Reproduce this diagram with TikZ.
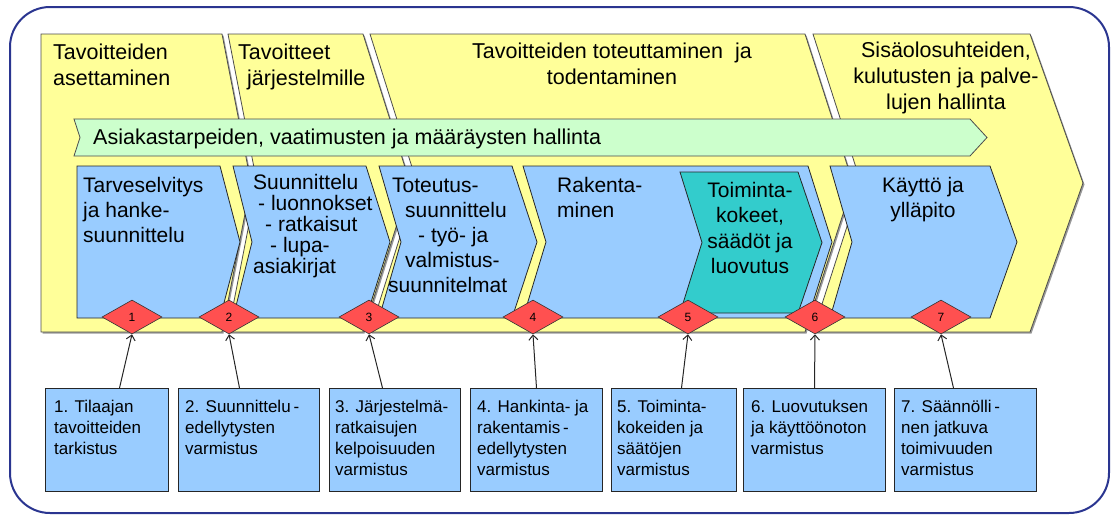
\documentclass[tikz,border=0pt]{standalone}
\usepackage{fontspec}
\setmainfont{Liberation Sans}
\usetikzlibrary{shapes.geometric,arrows.meta}
\definecolor{yel}{HTML}{FFFF99}
\definecolor{blu}{HTML}{99CCFF}
\definecolor{tea}{HTML}{33CCCC}
\definecolor{grn}{HTML}{CCFFCC}
\definecolor{redd}{HTML}{FF5050}
\definecolor{navy}{HTML}{2A3590}
\begin{document}
\begin{tikzpicture}[x=1pt,y=-1pt,
  phase/.style={preaction={fill=black!40,transform canvas={xshift=1.5pt,yshift=-1.5pt}},
                fill=yel,draw=black!70,line width=0.8pt},
  stagebox/.style={fill=blu,draw=black!85,line width=0.8pt},
  tealbox/.style={fill=tea,draw=black!85,line width=0.8pt},
  greenbar/.style={fill=grn,draw=black!70,line width=0.8pt},
  dia/.style={diamond,fill=redd,draw=black!80,line width=0.6pt,minimum width=60pt,
              minimum height=34pt,inner sep=0pt,font=\fontsize{12}{14}\selectfont},
  lbox/.style={rectangle,fill=blu,draw=black!85,line width=1pt,inner sep=0pt,
               anchor=north west,minimum height=103pt},
  arr/.style={-{Straight Barb[length=5pt,width=9pt]},line width=1pt,black!85},
  bigtxt/.style={font=\fontsize{21.5}{26}\selectfont,inner sep=0pt},
  midtxt/.style={font=\fontsize{21}{25}\selectfont,inner sep=0pt},
  smalltxt/.style={font=\fontsize{17}{21}\selectfont,inner sep=0pt,align=left,anchor=base west}
]
\useasboundingbox (0,0) rectangle (1112,515);
% outer frame
\draw[navy,line width=2pt,rounded corners=40pt] (10,7) rectangle (1109,513);

% phases (yellow chevrons)
\draw[phase] (41,34) -- (222,34) -- (251,183) -- (222,332) -- (41,332) -- cycle;
\draw[phase] (228,34) -- (363,34) -- (410,183) -- (363,332) -- (228,332) -- (257,183) -- cycle;
\draw[phase] (370,34) -- (805,34) -- (853,183) -- (805,332) -- (370,332) -- (417,183) -- cycle;
\draw[phase] (813,34) -- (1030,34) -- (1083,183) -- (1030,332) -- (813,332) -- (861,183) -- cycle;

% green bar
\draw[greenbar] (74,119) -- (970,119) -- (987,137.5) -- (970,156) -- (74,156) -- (80,137.5) -- cycle;

% stages
\draw[stagebox] (77,166) -- (220,166) -- (240,242) -- (220,318) -- (77,318) -- cycle;
\draw[stagebox] (233,166) -- (366,166) -- (390,242) -- (366,318) -- (233,318) -- (252,242) -- cycle;
\draw[stagebox] (379,166) -- (512,166) -- (537,242) -- (512,318) -- (379,318) -- (401,242) -- cycle;
\draw[stagebox] (523,166) -- (808,166) -- (832,242) -- (808,318) -- (523,318) -- (546,242) -- cycle;
\draw[tealbox] (680,172) -- (798,172) -- (822,242.5) -- (798,313) -- (680,313) -- (702,242.5) -- cycle;
\draw[stagebox] (830,166) -- (990,166) -- (1017,242) -- (990,318) -- (830,318) -- (852,242) -- cycle;

% phase titles (anchor = baseline of last line)
\node[bigtxt,anchor=base west,align=left] (p1) at (53,85) {Tavoitteiden\\asettaminen};
\node[bigtxt,anchor=base west,align=left] (p2) at (238,85) {Tavoitteet\\\hspace*{9pt}järjestelmille};
\node[bigtxt,anchor=base,align=center] (p3) at (612,84) {Tavoitteiden toteuttaminen\ \ ja\\todentaminen};
\node[bigtxt,anchor=base,align=center] (p4) at (946,109) {Sisäolosuhteiden,\\kulutusten ja palve-\\lujen hallinta};

% green bar text
\node[bigtxt,anchor=base west] (g) at (93,144) {Asiakastarpeiden, vaatimusten ja määräysten hallinta};

% stage texts
\node[midtxt,anchor=base west,align=left] (s1) at (83,242) {Tarveselvitys\\ja hanke-\\suunnittelu};
\node[font=\fontsize{21}{21}\selectfont,inner sep=0pt,anchor=base west,align=left] (s2) at (253,273)
  {Suunnittelu\\\hspace*{5pt}- luonnokset\\\hspace*{12pt}- ratkaisut\\\hspace*{17pt}- lupa-\\asiakirjat};
\node[midtxt,anchor=base west,align=left] (s3) at (388,292)
  {\hspace*{4pt}Toteutus-\\\hspace*{17pt}suunnittelu\\\hspace*{30pt}- työ- ja\\\hspace*{17pt}valmistus-\\suunnitelmat};
\node[midtxt,anchor=base west,align=left] (s4) at (557,217) {Rakenta-\\minen};
\node[font=\fontsize{21}{25.5}\selectfont,inner sep=0pt,anchor=base,align=center] (s5) at (750,273.5)
  {Toiminta-\\kokeet,\\säädöt ja\\luovutus};
\node[midtxt,anchor=base,align=center] (s6) at (923,217) {Käyttö ja\\ylläpito};

% diamonds
\node[dia] (d1) at (132,317) {1};
\node[dia] (d2) at (229,317) {2};
\node[dia] (d3) at (369,317) {3};
\node[dia] (d4) at (533,317) {4};
\node[dia] (d5) at (688,317) {5};
\node[dia] (d6) at (815,317) {6};
\node[dia] (d7) at (941,317) {7};

% lower boxes
\node[lbox,minimum width=123pt] (b1) at (45,388) {};
\node[lbox,minimum width=141pt] (b2) at (178,388) {};
\node[lbox,minimum width=131pt] (b3) at (329,388) {};
\node[lbox,minimum width=132pt] (b4) at (470,388) {};
\node[lbox,minimum width=125pt] (b5) at (611,388) {};
\node[lbox,minimum width=142pt] (b6) at (743,388) {};
\node[lbox,minimum width=142pt] (b7) at (894,388) {};

\node[smalltxt] (t1) at (54,454) {1. Tilaajan\\tavoitteiden\\tarkistus};
\node[smalltxt] (t2) at (185,454) {2. Suunnittelu\,-\\edellytysten\\varmistus};
\node[smalltxt] (t3) at (335,475) {3. Järjestelmä-\\ratkaisujen\\kelpoisuuden\\varmistus};
\node[smalltxt] (t4) at (477,475) {4. Hankinta- ja\\rakentamis\,-\\edellytysten\\varmistus};
\node[smalltxt] (t5) at (617,475) {5. Toiminta-\\kokeiden ja\\säätöjen\\varmistus};
\node[smalltxt] (t6) at (751,454) {6. Luovutuksen\\ja käyttöönoton\\varmistus};
\node[smalltxt] (t7) at (901,475) {7. Säännölli\,-\\nen jatkuva\\toimivuuden\\varmistus};

% arrows
\draw[arr] ([xshift=12.5pt]b1.north) -- (d1.south);
\draw[arr] ([xshift=-9.5pt]b2.north) -- (d2.south);
\draw[arr] ([xshift=-12.5pt]b3.north) -- (d3.south);
\draw[arr] (b4.north) -- (d4.south);
\draw[arr] ([xshift=7.5pt]b5.north) -- (d5.south);
\draw[arr] (b6.north) -- (d6.south);
\draw[arr] ([xshift=-12pt]b7.north) -- (d7.south);
\end{tikzpicture}
\end{document}
